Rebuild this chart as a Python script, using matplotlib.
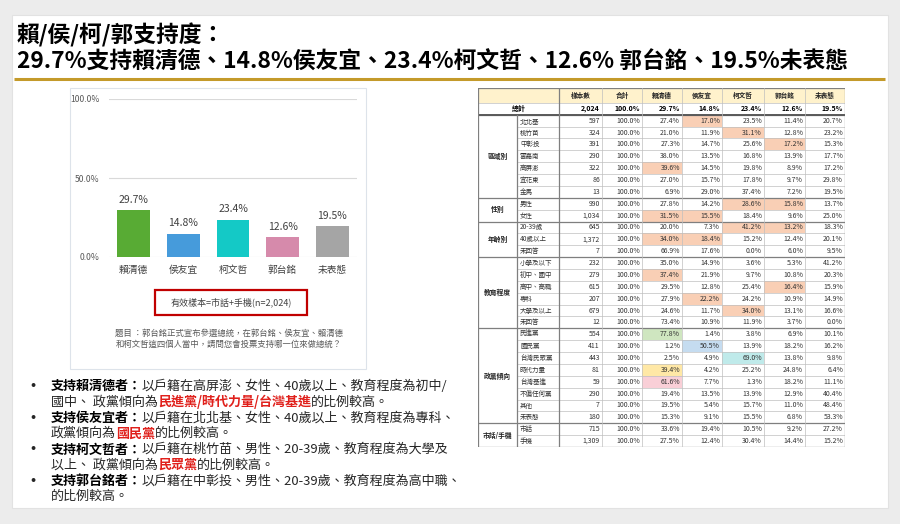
import matplotlib
matplotlib.use('Agg')
import matplotlib.pyplot as plt
from matplotlib.patches import Rectangle

plt.rcParams['font.family'] = ['Noto Sans CJK TC', 'DejaVu Sans']

# ---- data ----
title_1 = '賴/侯/柯/郭支持度：'
title_2 = '29.7%支持賴清德、14.8%侯友宜、23.4%柯文哲、12.6% 郭台銘、19.5%未表態'

candidates = ['賴清德', '侯友宜', '柯文哲', '郭台銘', '未表態']
support = [29.7, 14.8, 23.4, 12.6, 19.5]
y_ticks = [0, 50, 100]

sample_note = '有效樣本=市話+手機(n=2,024)'
question = ['題目 ：郭台銘正式宣布參選總統，在郭台銘、侯友宜、賴清德',
            '和柯文哲這四個人當中，請問您會投票支持哪一位來做總統？']

bullets = [
    [('支持賴清德者：', 'b'), ('以戶籍在高屏澎、女性、40歲以上、教育程度為初中/', 'n')],
    [('國中、 政黨傾向為', 'n'), ('民進黨/時代力量/台灣基進', 'r'), ('的比例較高。', 'n')],
    [('支持侯友宜者：', 'b'), ('以戶籍在北北基、女性、40歲以上、教育程度為專科、', 'n')],
    [('政黨傾向為', 'n'), ('國民黨', 'r'), ('的比例較高。', 'n')],
    [('支持柯文哲者：', 'b'), ('以戶籍在桃竹苗、男性、20-39歲、教育程度為大學及', 'n')],
    [('以上、 政黨傾向為', 'n'), ('民眾黨', 'r'), ('的比例較高。', 'n')],
    [('支持郭台銘者：', 'b'), ('以戶籍在中彰投、男性、20-39歲、教育程度為高中職、', 'n')],
    [('的比例較高。', 'n')],
]

table_head = ['樣本數', '合計', '賴清德', '侯友宜', '柯文哲', '郭台銘', '未表態']
total_label = '總計'
total_n = 2024
total_pct = [100.0, 29.7, 14.8, 23.4, 12.6, 19.5]

groups = ['區域別', '性別', '年齡別', '教育程度', '政黨傾向', '市話/手機']
group_sizes = [7, 2, 3, 6, 8, 2]
row_labels = ['北北基', '桃竹苗', '中彰投', '雲嘉南', '高屏澎', '宜花東', '金馬',
              '男性', '女性',
              '20-39歲', '40歲以上', '未回答',
              '小學及以下', '初中、國中', '高中、高職', '專科', '大學及以上', '未回答',
              '民進黨', '國民黨', '台灣民眾黨', '時代力量', '台灣基進', '不偏任何黨', '其他', '未表態',
              '市話', '手機']
row_n = [597, 324, 391, 290, 322, 86, 13,
         990, 1034,
         645, 1372, 7,
         232, 279, 615, 207, 679, 12,
         554, 411, 443, 81, 59, 290, 7, 180,
         715, 1309]
row_pct = [
    [100.0, 27.4, 17.0, 23.5, 11.4, 20.7],
    [100.0, 21.0, 11.9, 31.1, 12.8, 23.2],
    [100.0, 27.3, 14.7, 25.6, 17.2, 15.3],
    [100.0, 38.0, 13.5, 16.8, 13.9, 17.7],
    [100.0, 39.6, 14.5, 19.8, 8.9, 17.2],
    [100.0, 27.0, 15.7, 17.8, 9.7, 29.8],
    [100.0, 6.9, 29.0, 37.4, 7.2, 19.5],
    [100.0, 27.8, 14.2, 28.6, 15.8, 13.7],
    [100.0, 31.5, 15.5, 18.4, 9.6, 25.0],
    [100.0, 20.0, 7.3, 41.2, 13.2, 18.3],
    [100.0, 34.0, 18.4, 15.2, 12.4, 20.1],
    [100.0, 66.9, 17.6, 0.0, 6.0, 9.5],
    [100.0, 35.0, 14.9, 3.6, 5.3, 41.2],
    [100.0, 37.4, 21.9, 9.7, 10.8, 20.3],
    [100.0, 29.5, 12.8, 25.4, 16.4, 15.9],
    [100.0, 27.9, 22.2, 24.2, 10.9, 14.9],
    [100.0, 24.6, 11.7, 34.0, 13.1, 16.6],
    [100.0, 73.4, 10.9, 11.9, 3.7, 0.0],
    [100.0, 77.8, 1.4, 3.8, 6.9, 10.1],
    [100.0, 1.2, 50.5, 13.9, 18.2, 16.2],
    [100.0, 2.5, 4.9, 69.0, 13.8, 9.8],
    [100.0, 39.4, 4.2, 25.2, 24.8, 6.4],
    [100.0, 61.6, 7.7, 1.3, 18.2, 11.1],
    [100.0, 19.4, 13.5, 13.9, 12.9, 40.4],
    [100.0, 19.5, 5.4, 15.7, 11.0, 48.4],
    [100.0, 15.3, 9.1, 15.5, 6.8, 53.3],
    [100.0, 33.6, 19.4, 10.5, 9.2, 27.2],
    [100.0, 27.5, 12.4, 30.4, 14.4, 15.2],
]
# (row, candidate, colour key)
highlights = [(0, 1, 'o'), (1, 2, 'o'), (2, 3, 'o'), (4, 0, 'o'),
              (7, 2, 'o'), (7, 3, 'o'), (8, 0, 'o'), (8, 1, 'o'),
              (9, 2, 'o'), (9, 3, 'o'), (10, 0, 'o'), (10, 1, 'o'),
              (13, 0, 'o'), (14, 3, 'o'), (15, 1, 'o'), (16, 2, 'o'),
              (18, 0, 'g'), (19, 1, 'b'), (20, 2, 't'), (21, 0, 'y'), (22, 0, 'p')]

# ---- style ----
bar_colors = ['#58ab34', '#469bdb', '#14c9c6', '#d68aab', '#a5a5a5']
hl_colors = {'o': '#f9cfb5', 'g': '#cfe6c0', 'b': '#c5dcf0', 't': '#bfeaea',
             'y': '#ffe8a6', 'p': '#f9cfd7'}
gold = '#c49a2a'

fig = plt.figure(figsize=(9, 5.24), dpi=100)
fig.patch.set_facecolor('#ececec')

bg = fig.add_axes([0, 0, 1, 1])
bg.set_xlim(0, 900)
bg.set_ylim(524, 0)
bg.axis('off')
bg.add_patch(Rectangle((12, 15), 876, 493, facecolor='white', edgecolor='#e2e2e2', lw=0.8))

bg.text(17, 35, title_1, fontsize=16.4, fontweight='bold', va='center', ha='left')
bg.text(17, 62, title_2, fontsize=16.4, fontweight='bold', va='center', ha='left')
bg.plot([14, 885], [79, 79], color=gold, lw=2.2, solid_capstyle='butt')

# chart panel
bg.add_patch(Rectangle((70, 88), 296, 281, facecolor='white', edgecolor='#dde3ea', lw=0.8))
bg.add_patch(Rectangle((155, 290), 152, 25, facecolor='none', edgecolor='#c00000', lw=1.6))
bg.text(231, 302.5, sample_note, fontsize=6.5, color='#404040', ha='center', va='center')
for i, q in enumerate(question):
    bg.text(229, 333 + 11 * i, q, fontsize=6, color='#595959', ha='center', va='center')

ax = fig.add_axes([109 / 900, 1 - 257 / 524, 248 / 900, 158 / 524])
bars = ax.bar(range(len(candidates)), support, width=0.66, color=bar_colors, zorder=2)
ax.bar_label(bars, labels=[f'{v:.1f}%' for v in support], padding=4, fontsize=7.5, color='#404040')
ax.set_xlim(-0.5, len(candidates) - 0.5)
ax.set_ylim(0, 100)
ax.set_yticks(y_ticks)
ax.set_yticklabels([f'{v:.1f}%' for v in y_ticks], fontsize=6.2, color='#595959')
ax.set_xticks(range(len(candidates)))
ax.set_xticklabels(candidates, fontsize=7, color='#404040')
ax.tick_params(length=0, axis='y', pad=7)
ax.tick_params(length=0, axis='x', pad=6)
ax.grid(axis='y', color='#d9d9d9', lw=0.8, zorder=0)
for s in ax.spines.values():
    s.set_visible(False)
ax.set_facecolor('none')

# bullets with mixed runs
fig.canvas.draw()
renderer = fig.canvas.get_renderer()
run_style = {'n': dict(color='#262626'), 'b': dict(color='#000000', fontweight='bold'),
             'r': dict(color='#e0201b', fontweight='bold')}
line_y = [386, 402, 418, 433.5, 449.5, 465, 481, 496]
for i, runs in enumerate(bullets):
    if i % 2 == 0:
        bg.text(33, line_y[i], '•', fontsize=11, fontweight='bold', ha='center', va='center', color='#262626')
    x = 51
    for txt, st in runs:
        t = bg.text(x, line_y[i], txt, fontsize=9.4, va='center', ha='left', **run_style[st])
        x += t.get_window_extent(renderer).width

# table
col_w = [39, 42, 43, 40, 40, 40, 42, 41, 40]
edges = [sum(col_w[:i]) for i in range(len(col_w) + 1)]
head_h = 1.25
n_rows = len(row_labels)
tab = fig.add_axes([478 / 900, 1 - 447 / 524, edges[-1] / 900, 359 / 524])
tab.set_xlim(0, edges[-1])
tab.set_ylim(head_h + 1 + n_rows, 0)
tab.axis('off')

tab.add_patch(Rectangle((0, 0), edges[-1], head_h, facecolor='#fff2cc', edgecolor='none'))
for r, c, k in highlights:
    tab.add_patch(Rectangle((edges[c + 4], head_h + 1 + r), col_w[c + 4], 1,
                            facecolor=hl_colors[k], edgecolor='none'))

num_kw = dict(fontsize=5, color='#333333', ha='right', va='center')
for j, h in enumerate(table_head):
    tab.text((edges[j + 2] + edges[j + 3]) / 2, head_h / 2, h, fontsize=4.8,
             fontweight='bold', ha='center', va='center', color='#262626')
ty = head_h + 0.5
tab.text(edges[2] / 2, ty, total_label, fontsize=5, fontweight='bold', ha='center', va='center')
tab.text(edges[3] - 2, ty, f'{total_n:,}', fontsize=5, fontweight='bold', ha='right', va='center')
for j, v in enumerate(total_pct):
    tab.text(edges[j + 4] - 2, ty, f'{v:.1f}%', fontsize=5, fontweight='bold', ha='right', va='center')

for r in range(n_rows):
    y = head_h + 1.5 + r
    tab.text(edges[1] + 3, y, row_labels[r], fontsize=4.7, color='#333333', ha='left', va='center')
    tab.text(edges[3] - 2, y, f'{row_n[r]:,}', **num_kw)
    for j, v in enumerate(row_pct[r]):
        tab.text(edges[j + 4] - 2, y, f'{v:.1f}%', **num_kw)

light = dict(color='#bfbfbf', lw=0.5)
dark = dict(color='#7f7f7f', lw=0.9)
start = 0
for g, size in zip(groups, group_sizes):
    y0 = head_h + 1 + start
    tab.text(edges[1] / 2, y0 + size / 2, g, fontsize=4.9, fontweight='bold',
             ha='center', va='center', color='#262626')
    for k in range(1, size):
        tab.plot([edges[1], edges[-1]], [y0 + k, y0 + k], **light)
    tab.plot([0, edges[-1]], [y0, y0], **dark)
    start += size
tab.plot([0, edges[-1]], [head_h, head_h], **light)
tab.plot([0, edges[-1]], [head_h + 1, head_h + 1], color='#595959', lw=1.4)
tab.plot([0, edges[-1]], [0, 0], **dark)
tab.plot([0, edges[-1]], [head_h + 1 + n_rows] * 2, **dark)
for j, e in enumerate(edges):
    if j == 1:
        tab.plot([e, e], [head_h + 1, head_h + 1 + n_rows], **dark)
    elif j == 2:
        tab.plot([e, e], [0, head_h + 1 + n_rows], **dark)
    else:
        tab.plot([e, e], [0, head_h + 1 + n_rows], **(dark if j in (0, len(edges) - 1) else light))

fig.savefig('out.png', dpi=100)
